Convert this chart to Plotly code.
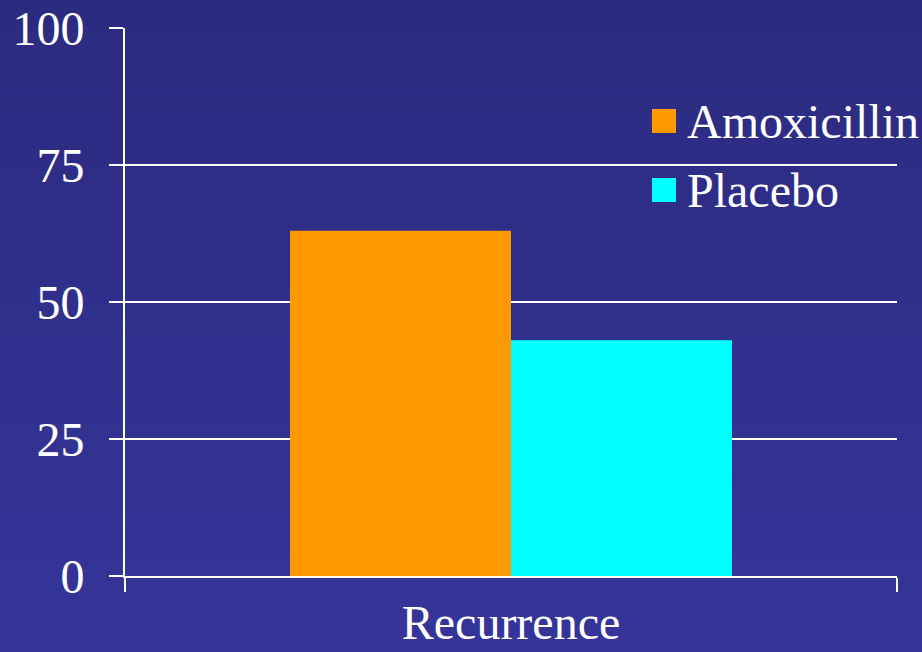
import plotly.graph_objects as go

# Data
categories = ["Recurrence"]
series_names = ["Amoxicillin", "Placebo"]
series_values = [[63], [43]]
series_colors = ["#FF9900", "#00FFFF"]
y_ticks = [0, 25, 50, 75, 100]

FONT = "Liberation Serif"
FS = 48

W, H = 922, 652
ML, MR, MT, MB = 125, 25, 28, 76
PW, PH = W - ML - MR, H - MT - MB


def px_to_paper_y(py):
    # pixel row (from top of figure) -> paper y
    return (H - MB - py) / PH


def px_to_paper_x(px):
    return (px - ML) / PW


fig = go.Figure()
for name, vals, col in zip(series_names, series_values, series_colors):
    fig.add_trace(go.Bar(x=categories, y=vals, name=name, marker=dict(color=col, line=dict(width=0)),
                         showlegend=False))

# vertical gradient background made of thin horizontal bands over the whole figure
shapes = []
n_bands = 80
top_rgb = (43, 43, 128)
bot_rgb = (53, 53, 154)
for i in range(n_bands):
    t = i / (n_bands - 1)
    r = round(top_rgb[0] + (bot_rgb[0] - top_rgb[0]) * t)
    g = round(top_rgb[1] + (bot_rgb[1] - top_rgb[1]) * t)
    b = round(top_rgb[2] + (bot_rgb[2] - top_rgb[2]) * t)
    py0 = H * i / n_bands
    py1 = H * (i + 1) / n_bands
    shapes.append(dict(type="rect", xref="paper", yref="paper",
                       x0=px_to_paper_x(-5), x1=px_to_paper_x(W + 5),
                       y0=px_to_paper_y(py1 + 0.5), y1=px_to_paper_y(py0 - 0.5),
                       line=dict(width=0), fillcolor=f"rgb({r},{g},{b})", layer="below"))

# legend: colored squares with labels
annotations = []
legend_rows_px = [121, 190]
for name, col, yc_px in zip(series_names, series_colors, legend_rows_px):
    shapes.append(dict(type="rect", xref="paper", yref="paper",
                       x0=px_to_paper_x(652), x1=px_to_paper_x(676),
                       y0=px_to_paper_y(yc_px + 12), y1=px_to_paper_y(yc_px - 12),
                       line=dict(width=0), fillcolor=col, layer="above"))
    annotations.append(dict(text=name, xref="paper", yref="paper", x=px_to_paper_x(685),
                            y=px_to_paper_y(yc_px), xanchor="left", yanchor="middle", showarrow=False,
                            font=dict(family=FONT, size=FS, color="white")))

fig.update_layout(
    width=W, height=H,
    margin=dict(l=ML, r=MR, t=MT, b=MB, autoexpand=False),
    paper_bgcolor="#2f2f8c",
    plot_bgcolor="rgba(0,0,0,0)",
    barmode="group", bargap=0.4275, bargroupgap=0,
    font=dict(family=FONT, size=FS, color="white"),
    shapes=shapes, annotations=annotations,
    xaxis=dict(type="category", range=[-0.5, 0.5], showgrid=False, showline=True, linecolor="white",
               linewidth=2, ticks="outside", tickson="boundaries", ticklen=14, tickwidth=2,
               tickcolor="white", ticklabelstandoff=3, automargin=False,
               tickfont=dict(family=FONT, size=FS, color="white")),
    yaxis=dict(range=[0, 100], tickvals=y_ticks, showgrid=True, gridcolor="white", gridwidth=2,
               showline=True, linecolor="white", linewidth=2, ticks="outside", ticklen=14, tickwidth=2,
               tickcolor="white", ticklabelstandoff=15, zeroline=False, automargin=False,
               tickfont=dict(family=FONT, size=FS, color="white")),
)

fig.write_html("out.html")
